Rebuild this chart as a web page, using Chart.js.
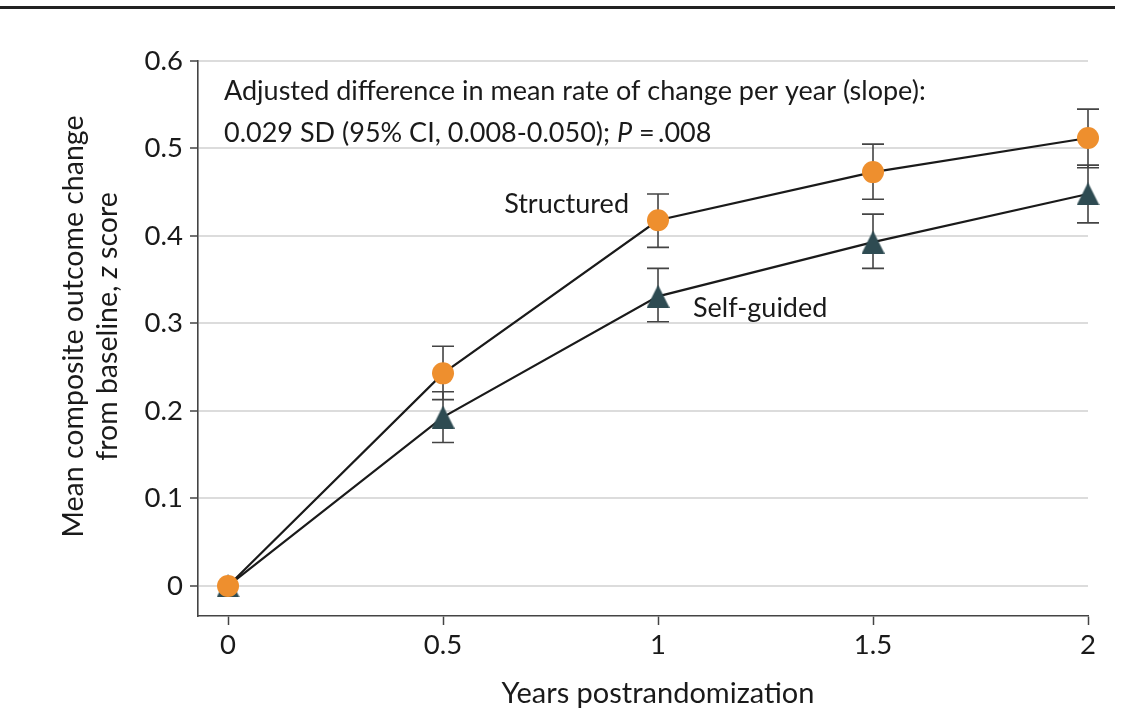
<!DOCTYPE html>
<html><head><meta charset="utf-8">
<script src="https://cdn.jsdelivr.net/npm/chart.js@4"></script>
<style>html,body{margin:0;padding:0;background:#fff;}#wrap{width:1130px;height:727px;}</style>
</head><body><div id="wrap"><canvas id="c" width="1130" height="727"></canvas></div>
<script>
const years = [0, 0.5, 1, 1.5, 2];
const structuredMean = [0, 0.243, 0.418, 0.473, 0.512];
const structuredLow  = [null, 0.213, 0.387, 0.442, 0.478];
const structuredHigh = [null, 0.274, 0.448, 0.505, 0.545];
const selfMean = [0, 0.193, 0.331, 0.393, 0.448];
const selfLow  = [null, 0.164, 0.302, 0.363, 0.415];
const selfHigh = [null, 0.222, 0.363, 0.425, 0.481];
const xTicks = [0, 0.5, 1, 1.5, 2];
const yTicks = [0, 0.1, 0.2, 0.3, 0.4, 0.5, 0.6];
const groupNames = ['Structured', 'Self-guided'];
const xTitle = 'Years postrandomization';
const yTitle1 = 'Mean composite outcome change';
const yTitle2 = ['from baseline, ', 'z', ' score'];
const note1 = 'Adjusted difference in mean rate of change per year (slope):';
const note2 = ['0.029 SD (95% CI, 0.008-0.050); ', 'P', ' =\u2009.008'];

const FONT = 'Lato, "Noto Sans", sans-serif';
const TXT = '#1a1a1a';
const ORANGE = '#EE8F2E';
const SLATE = '#2E4B52';

function triangleImg(size, color) {
  const c = document.createElement('canvas');
  c.width = size; c.height = size;
  const g = c.getContext('2d');
  g.fillStyle = color;
  g.beginPath();
  g.moveTo(size / 2, 0);
  g.lineTo(size, size);
  g.lineTo(0, size);
  g.closePath();
  g.fill();
  return c;
}
const tri = triangleImg(23, SLATE);

function toXY(xs, ys) { return xs.map((x, i) => ({ x: x, y: ys[i] })); }

const errorBars = {
  id: 'errorBars',
  beforeDatasetsDraw(chart) {
    const { ctx, scales: { x, y } } = chart;
    const sets = [[structuredLow, structuredHigh], [selfLow, selfHigh]];
    ctx.save();
    ctx.strokeStyle = '#444';
    ctx.lineWidth = 1.6;
    const cap = 11;
    sets.forEach(([lo, hi]) => {
      years.forEach((yr, i) => {
        if (lo[i] == null) return;
        const px = x.getPixelForValue(yr);
        const p1 = y.getPixelForValue(lo[i]);
        const p2 = y.getPixelForValue(hi[i]);
        ctx.beginPath();
        ctx.moveTo(px, p1); ctx.lineTo(px, p2);
        ctx.moveTo(px - cap, p1); ctx.lineTo(px + cap, p1);
        ctx.moveTo(px - cap, p2); ctx.lineTo(px + cap, p2);
        ctx.stroke();
      });
    });
    ctx.restore();
  }
};

function drawRuns(ctx, parts, x, y, size, align) {
  const fonts = parts.map((p, i) => (i % 2 === 1 ? 'italic ' : '') + size + 'px ' + FONT);
  let total = 0;
  const widths = parts.map((p, i) => { ctx.font = fonts[i]; const w = ctx.measureText(p).width; total += w; return w; });
  let cx = align === 'center' ? x - total / 2 : x;
  ctx.textAlign = 'left';
  parts.forEach((p, i) => { ctx.font = fonts[i]; ctx.fillText(p, cx, y); cx += widths[i]; });
}

const texts = {
  id: 'texts',
  afterDraw(chart) {
    const { ctx, scales: { x, y } } = chart;
    ctx.save();
    ctx.textBaseline = 'alphabetic';
    // top rule
    ctx.fillStyle = '#222';
    ctx.fillRect(0, 6, 1115, 3);
    ctx.fillStyle = TXT;
    // note
    ctx.font = '27px ' + FONT;
    ctx.textAlign = 'left';
    ctx.fillText(note1, 224, 100);
    drawRuns(ctx, note2, 224, 142, 27, 'left');
    // group labels
    ctx.font = '27px ' + FONT;
    ctx.textAlign = 'right';
    ctx.fillText(groupNames[0], 629, 213);
    ctx.textAlign = 'left';
    ctx.fillText(groupNames[1], 693, 317);
    // x title
    ctx.font = '29px ' + FONT;
    ctx.textAlign = 'center';
    const xc = (x.getPixelForValue(xTicks[0]) + x.getPixelForValue(xTicks[xTicks.length - 1])) / 2;
    ctx.fillText(xTitle, xc, 703);
    // y title
    const yc = (y.getPixelForValue(yTicks[0]) + y.getPixelForValue(yTicks[yTicks.length - 1])) / 2 + 3;
    ctx.translate(0, yc);
    ctx.rotate(-Math.PI / 2);
    ctx.font = '28.5px ' + FONT;
    ctx.textAlign = 'center';
    ctx.fillText(yTitle1, 0, 83);
    drawRuns(ctx, yTitle2, 0, 117, 28.5, 'center');
    ctx.restore();
  }
};

new Chart(document.getElementById('c'), {
  type: 'line',
  data: {
    datasets: [
      {
        label: groupNames[0],
        data: toXY(years, structuredMean),
        borderColor: '#1a1a1a', borderWidth: 2.2, clip: false,
        pointStyle: 'circle', pointRadius: 11, pointHoverRadius: 11,
        pointBackgroundColor: ORANGE, pointBorderWidth: 0, pointBorderColor: ORANGE
      },
      {
        label: groupNames[1],
        data: toXY(years, selfMean),
        borderColor: '#1a1a1a', borderWidth: 2.2, clip: false,
        pointStyle: tri, pointRadius: 11, pointHoverRadius: 11,
        pointBackgroundColor: SLATE, pointBorderWidth: 0
      }
    ]
  },
  options: {
    responsive: false,
    animation: false,
    devicePixelRatio: 1,
    layout: { padding: { top: 61, right: 42, bottom: 0, left: 0 } },
    plugins: { legend: { display: false }, tooltip: { enabled: false } },
    scales: {
      x: {
        type: 'linear', min: -0.0698, max: 2,
        afterFit: s => { s.height = 111; },
        afterBuildTicks: s => { s.ticks = xTicks.map(v => ({ value: v })); },
        grid: { drawOnChartArea: false, drawTicks: true, tickLength: 9, tickColor: '#444', tickWidth: 1.5 },
        border: { display: true, color: '#444', width: 1.6 },
        ticks: { color: TXT, font: { family: FONT, size: 27.5 }, padding: 4, maxRotation: 0, callback: v => String(v) }
      },
      y: {
        type: 'linear', min: -0.0343, max: 0.6,
        afterFit: s => { s.width = 198; },
        afterBuildTicks: s => { s.ticks = yTicks.map(v => ({ value: v })); },
        grid: { color: '#dcdcdc', lineWidth: 2, drawTicks: true, tickLength: 8, tickColor: '#444', tickWidth: 1.5 },
        border: { display: true, color: '#444', width: 1.6 },
        ticks: { color: TXT, font: { family: FONT, size: 27.5 }, padding: 7, callback: v => String(v) }
      }
    }
  },
  plugins: [errorBars, texts]
});
</script></body></html>
